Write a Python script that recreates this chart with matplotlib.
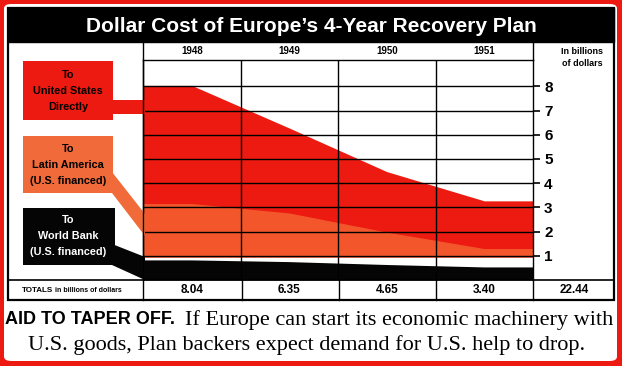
import numpy as np
import matplotlib
matplotlib.use('Agg')
import matplotlib.pyplot as plt
from matplotlib.patches import Rectangle, Polygon, FancyBboxPatch
from matplotlib.lines import Line2D

# ---- data ----
years = ['1948', '1949', '1950', '1951']
totals = ['8.04', '6.35', '4.65', '3.40']
grand_total = '22.44'
us_top = [8.04, 6.28, 4.48, 3.27]        # upper edge of red (U.S. directly) area
latin_top = [3.16, 2.77, 1.98, 1.30]     # upper edge of orange (Latin America) area
latin_base = 0.95                         # lower edge of red/orange areas
world_bank = [0.83, 0.76, 0.64, 0.54]    # upper edge of black (World Bank) band
yticks = [1, 2, 3, 4, 5, 6, 7, 8]

RED = '#ec1a10'
ORANGE = '#f3562a'
ORANGE_BOX = '#f06a3a'
BLACK = '#050505'
COND = ['Liberation Sans', 'DejaVu Sans']
SERIF = ['Liberation Serif', 'DejaVu Serif']

W, H = 622, 366
fig = plt.figure(figsize=(W / 100, H / 100), dpi=100)
fig.patch.set_facecolor(RED)


def fx(x):
    return x / W


def fy(y):
    return 1 - y / H


def rect(x0, y0, x1, y1, **kw):
    r = Rectangle((fx(x0), fy(y1)), (x1 - x0) / W, (y1 - y0) / H,
                  transform=fig.transFigure, **kw)
    fig.add_artist(r)
    return r


def line(x0, y0, x1, y1, lw=1.0, z=5):
    fig.add_artist(Line2D([fx(x0), fx(x1)], [fy(y0), fy(y1)],
                          transform=fig.transFigure, color='black', lw=lw, zorder=z))


def poly(pts, color, z=1):
    fig.add_artist(Polygon([(fx(x), fy(y)) for x, y in pts], closed=True,
                           transform=fig.transFigure, facecolor=color,
                           edgecolor='none', zorder=z))


# white page inside red frame
fig.add_artist(FancyBboxPatch((fx(4), fy(361)), 613 / W, 357 / H,
                              boxstyle='round,pad=0,rounding_size=0.012',
                              transform=fig.transFigure, facecolor='white',
                              edgecolor='none', zorder=-10))

# ---- main plotting axes ----
ax = fig.add_axes([fx(143), fy(280), (533 - 143) / W, (280 - 60) / H])
ax.set_facecolor('white')
n = len(years)
xs = np.arange(n) + 0.5
ex = np.r_[0, xs, n]


def ext(v):
    v = list(v)
    return np.r_[v[0], v, v[-1]]


ax.fill_between(ex, latin_base, ext(us_top), color=RED, lw=0, zorder=1)
ax.fill_between(ex, latin_base, ext(latin_top), color=ORANGE, lw=0, zorder=1.5)
ax.fill_between(ex, 0, ext(world_bank), color=BLACK, lw=0, zorder=2)

for t in yticks:
    ax.axhline(t, color='black', lw=1.0, zorder=3)
for i in range(1, n):
    ax.axvline(i, color='black', lw=1.0, zorder=3)

ax.set_xlim(0, n)
ax.set_ylim(0, 220 / 24.2)
ax.set_xticks([])
ax.yaxis.tick_right()
ax.set_yticks(yticks)
ax.set_yticklabels([str(t) for t in yticks], fontweight='bold', fontsize=11,
                   family=COND)
ax.tick_params(axis='y', direction='out', length=5, width=1.2, pad=3)
for s in ['top', 'right', 'left']:
    ax.spines[s].set_linewidth(1.0)
ax.spines['bottom'].set_visible(False)

# header years and totals row
for i, yr in enumerate(years):
    ax.text(xs[i], 1 + 9 / 220, yr, transform=ax.get_xaxis_transform(),
            ha='center', va='center', fontsize=7, fontweight='bold',
            family=COND, clip_on=False)
    ax.text(xs[i], -10 / 220, totals[i], transform=ax.get_xaxis_transform(),
            ha='center', va='center', fontsize=8.5, fontweight='bold',
            family=COND, clip_on=False)

# ---- frame, title band, table lines ----
rect(8, 8, 614, 42, facecolor='black', edgecolor='black', zorder=1)
rect(8, 8, 614, 300, fill=False, edgecolor='black', lw=1.6, zorder=6)
line(143, 42, 143, 300)
line(533, 42, 533, 60)
line(533, 280, 533, 300)
line(8, 280, 614, 280, lw=1.2)
for xv in [242, 339, 436]:
    line(xv, 280, xv, 300)

fig.text(fx(311), fy(26), 'Dollar Cost of Europe\u2019s 4-Year Recovery Plan',
         color='white', fontsize=15, fontweight='bold', family=COND,
         ha='center', va='center')
fig.text(fx(582), fy(52), 'In billions', fontsize=6.5, fontweight='bold',
         family=COND, ha='center', va='center')
fig.text(fx(582), fy(63), 'of dollars', fontsize=6.5, fontweight='bold',
         family=COND, ha='center', va='center')
fig.text(fx(22), fy(290), 'TOTALS', fontsize=5.8, fontweight='bold',
         family=COND, ha='left', va='center')
fig.text(fx(55), fy(290.5), 'in billions of dollars', fontsize=5,
         fontweight='bold', family=COND, ha='left', va='center')
fig.text(fx(574), fy(290), grand_total, fontsize=8.5, fontweight='bold',
         family=COND, ha='center', va='center')

# ---- legend label boxes with connectors ----
poly([(112, 100), (145, 100), (145, 114), (112, 114)], RED)
rect(23, 61, 113, 120, facecolor=RED, edgecolor='none', zorder=1)
poly([(112, 172), (145, 214), (145, 236), (112, 193)], ORANGE_BOX)
rect(23, 136, 113, 193, facecolor=ORANGE_BOX, edgecolor='none', zorder=1)
poly([(112, 244), (145, 257), (145, 280), (112, 265)], BLACK)
rect(23, 208, 115, 265, facecolor=BLACK, edgecolor='none', zorder=1)

labels = [
    (['To', 'United States', 'Directly'], [75, 91, 107], 'black'),
    (['To', 'Latin America', '(U.S. financed)'], [149, 165, 181], 'black'),
    (['To', 'World Bank', '(U.S. financed)'], [220, 236, 252], 'white'),
]
for lines_, ys, col in labels:
    for txt, yv in zip(lines_, ys):
        fig.text(fx(68), fy(yv), txt, fontsize=7.8, fontweight='bold',
                 family=COND, color=col, ha='center', va='center', zorder=4)

# ---- caption ----
fig.text(fx(5), fy(320), 'AID TO TAPER OFF.', fontsize=13, fontweight='heavy',
         family=COND, ha='left', va='center')
fig.text(fx(613), fy(320), 'If Europe can start its economic machinery with',
         fontsize=16, family=SERIF, ha='right', va='center')
fig.text(fx(307), fy(345), 'U.S. goods, Plan backers expect demand for U.S. help to drop.',
         fontsize=16, family=SERIF, ha='center', va='center')

fig.savefig('out.png', dpi=100, facecolor=fig.get_facecolor())
